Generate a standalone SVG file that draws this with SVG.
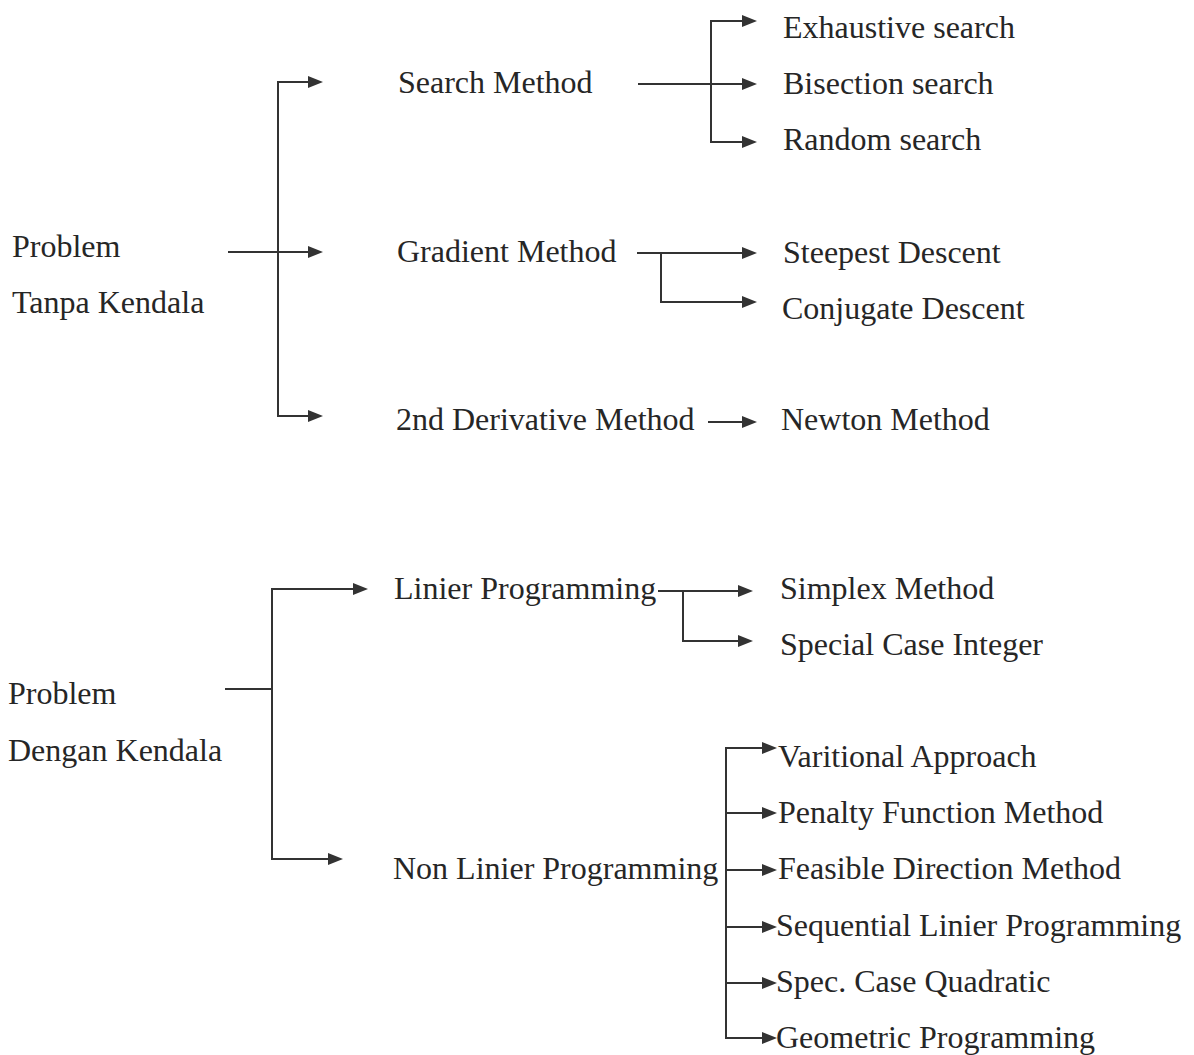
<svg xmlns="http://www.w3.org/2000/svg" xmlns:xlink="http://www.w3.org/1999/xlink" width="1194" height="1055" viewBox="0 0 1194 1055">
<style>
text{font-family:"Liberation Serif","Times New Roman",serif;font-size:32px;fill:#262626}
.c path,.c line{stroke:#333;stroke-width:2;fill:none}
.ah{fill:#333;stroke:none}
</style>
<defs>
<path id="arr" class="ah" d="M-15,-6 L0,0 L-15,6 Z"/>
</defs>
<rect width="1194" height="1055" fill="#fff"/>
<g class="c" id="connectors">
<path d="M228,252 H320"/>
<path d="M320,82 H278 V416 H320"/>
<path d="M638,84 H754"/>
<path d="M754,21 H711 V142 H754"/>
<path d="M637,253 H754"/>
<path d="M661,253 V302 H754"/>
<path d="M708,422 H754"/>
<path d="M225,689 H272"/>
<path d="M365,589 H272 V859 H340"/>
<path d="M658,591 H750"/>
<path d="M683,591 V641 H750"/>
<path d="M774,748 H726 V1038 H774"/>
<path d="M726,813 H774 M726,870 H774 M726,927 H774 M726,983 H774"/>
<use xlink:href="#arr" x="323" y="82"/>
<use xlink:href="#arr" x="323" y="252"/>
<use xlink:href="#arr" x="323" y="416"/>
<use xlink:href="#arr" x="757" y="21"/>
<use xlink:href="#arr" x="757" y="84"/>
<use xlink:href="#arr" x="757" y="142"/>
<use xlink:href="#arr" x="757" y="253"/>
<use xlink:href="#arr" x="757" y="302"/>
<use xlink:href="#arr" x="757" y="422"/>
<use xlink:href="#arr" x="368" y="589"/>
<use xlink:href="#arr" x="343" y="859"/>
<use xlink:href="#arr" x="753" y="591"/>
<use xlink:href="#arr" x="753" y="641"/>
<use xlink:href="#arr" x="777" y="748"/>
<use xlink:href="#arr" x="777" y="813"/>
<use xlink:href="#arr" x="777" y="870"/>
<use xlink:href="#arr" x="777" y="927"/>
<use xlink:href="#arr" x="777" y="983"/>
<use xlink:href="#arr" x="777" y="1038"/>
</g>
<g id="n-problem-tanpa"><text x="12" y="257">Problem</text><text x="12" y="313">Tanpa Kendala</text></g>
<g id="n-search"><text x="398" y="93">Search Method</text></g>
<g id="n-gradient"><text x="397" y="262">Gradient Method</text></g>
<g id="n-2nd"><text x="396" y="430">2nd Derivative Method</text></g>
<g id="n-exhaustive"><text x="783" y="38">Exhaustive search</text></g>
<g id="n-bisection"><text x="783" y="94">Bisection search</text></g>
<g id="n-random"><text x="783" y="150">Random search</text></g>
<g id="n-steepest"><text x="783" y="263">Steepest Descent</text></g>
<g id="n-conjugate"><text x="782" y="319">Conjugate Descent</text></g>
<g id="n-newton"><text x="781" y="430">Newton Method</text></g>
<g id="n-problem-dengan"><text x="8" y="704">Problem</text><text x="8" y="761">Dengan Kendala</text></g>
<g id="n-linier"><text x="394" y="599">Linier Programming</text></g>
<g id="n-nonlinier"><text x="393" y="879">Non Linier Programming</text></g>
<g id="n-simplex"><text x="780" y="599">Simplex Method</text></g>
<g id="n-special"><text x="780" y="655">Special Case Integer</text></g>
<g id="n-varitional"><text x="778" y="767">Varitional Approach</text></g>
<g id="n-penalty"><text x="778" y="823">Penalty Function Method</text></g>
<g id="n-feasible"><text x="778" y="879">Feasible Direction Method</text></g>
<g id="n-sequential"><text x="776" y="936">Sequential Linier Programming</text></g>
<g id="n-spec"><text x="776" y="992">Spec. Case Quadratic</text></g>
<g id="n-geometric"><text x="776" y="1048">Geometric Programming</text></g>
</svg>
